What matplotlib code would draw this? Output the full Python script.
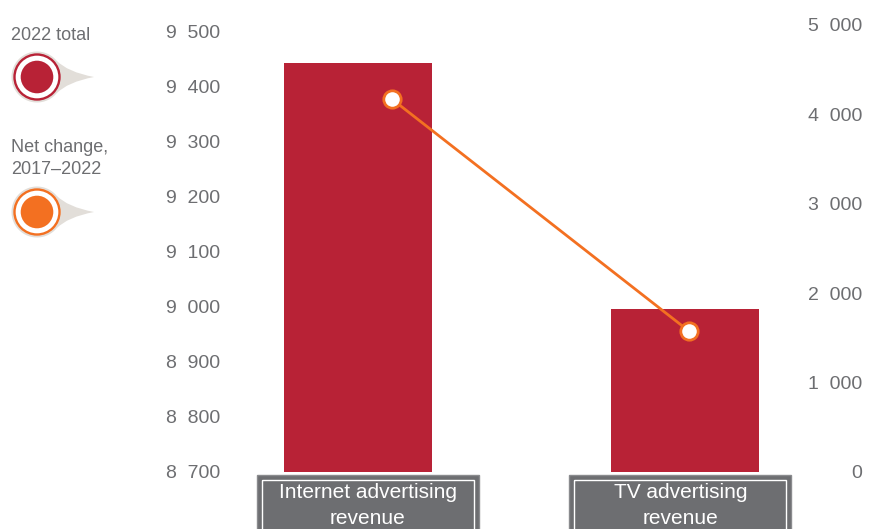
import numpy as np
import matplotlib
matplotlib.use("Agg")
import matplotlib.pyplot as plt
from matplotlib.patches import Circle, Rectangle, PathPatch
from matplotlib.path import Path
from matplotlib.ticker import FuncFormatter, FixedLocator

plt.rcParams["font.family"] = ["Liberation Sans", "DejaVu Sans"]

# Data
categories = ["Internet advertising\nrevenue", "TV advertising\nrevenue"]
total_2022 = [9442, 8996]          # left axis, bars
net_change = [4172, 1577]          # right axis, line
left_ticks = [8700, 8800, 8900, 9000, 9100, 9200, 9300, 9400, 9500]
right_ticks = [0, 1000, 2000, 3000, 4000, 5000]

# Styling
BAR_RED = "#b82236"
LINE_ORANGE = "#f37021"
TEXT_GREY = "#6d6e71"
PIN_GREY = "#e2ded9"
BOX_GREY = "#6d6e71"
LINE_SHIFT = np.array([0.104, 0.011])   # horizontal nudge of the line markers

W, H = 872, 529
fig = plt.figure(figsize=(W / 100, H / 100), dpi=100)

def fig_rect(x0, y_top, x1, y_bottom):
    return [x0 / W, 1 - y_bottom / H, (x1 - x0) / W, (y_bottom - y_top) / H]

ax = fig.add_axes(fig_rect(194, 25, 849, 472))
x = np.arange(len(categories))
ax.bar(x, total_2022, width=0.452, color=BAR_RED, zorder=2)
ax.set_xlim(-0.5, 1.5)
ax.set_ylim(8700, 9511)
ax.yaxis.set_major_locator(FixedLocator(left_ticks))
# thousands separated by a digit-wide gap
fmt = FuncFormatter(lambda v, p: f"{int(v):,}".replace(",", "  "))
ax.yaxis.set_major_formatter(fmt)
ax.tick_params(axis="y", length=0, pad=-19, labelsize=14, labelcolor=TEXT_GREY)
ax.set_xticks([])
for s in ax.spines.values():
    s.set_visible(False)

ax2 = ax.twinx()
ax2.set_ylim(0, 5000)
ax2.yaxis.set_major_locator(FixedLocator(right_ticks))
ax2.yaxis.set_major_formatter(fmt)
ax2.tick_params(axis="y", length=0, pad=9.5, labelsize=14, labelcolor=TEXT_GREY)
for lbl in ax2.get_yticklabels():
    lbl.set_horizontalalignment("right")
for s in ax2.spines.values():
    s.set_visible(False)
ax2.plot(x + LINE_SHIFT, net_change, color=LINE_ORANGE, lw=2, zorder=3,
         marker="o", markersize=12.5, markerfacecolor="white",
         markeredgecolor=LINE_ORANGE, markeredgewidth=2)

# Overlay in pixel coordinates (y pointing down) for legend and category boxes
ov = fig.add_axes([0, 0, 1, 1], zorder=5)
ov.set_xlim(0, W)
ov.set_ylim(H, 0)
ov.axis("off")
ov.patch.set_alpha(0)

def pin(cx, cy, color):
    R = 25.5
    a = np.deg2rad(np.linspace(40, 320, 80))
    arc = np.column_stack([cx + R * np.cos(a), cy - R * np.sin(a)])
    tip = (cx + 57, cy)
    verts = list(arc)
    codes = [Path.MOVETO] + [Path.LINETO] * (len(arc) - 1)
    verts += [(cx + R + 5, cy + 5), tip, (cx + R + 5, cy - 5), tuple(arc[0])]
    codes += [Path.CURVE3, Path.CURVE3, Path.CURVE3, Path.CURVE3]
    ov.add_patch(PathPatch(Path(verts, codes), facecolor=PIN_GREY, edgecolor="none"))
    ov.add_patch(Circle((cx, cy), 22.5, facecolor="white", edgecolor=color, lw=1.7))
    ov.add_patch(Circle((cx, cy), 16.3, facecolor=color, edgecolor="none"))

ov.text(11, 35, "2022 total", fontsize=13, color=TEXT_GREY, va="center", ha="left")
pin(37, 77, BAR_RED)
ov.text(11, 147, "Net change,", fontsize=13, color=TEXT_GREY, va="center", ha="left")
ov.text(11, 169, "2017\u20132022", fontsize=13, color=TEXT_GREY, va="center", ha="left")
pin(37, 212, LINE_ORANGE)

# Category label boxes under the bars
for i, cat in enumerate(categories):
    px, _ = ax.transData.transform((x[i], 9000))
    cx = px + (10 if i == 0 else -5)
    bw = 222
    ov.add_patch(Rectangle((cx - bw / 2, 475), bw, 70, facecolor=BOX_GREY,
                           edgecolor="#8a8b8e", lw=1))
    ov.add_patch(Rectangle((cx - bw / 2 + 5, 480), bw - 10, 70, facecolor="none",
                           edgecolor="white", lw=1))
    line1, line2 = cat.split("\n")
    ov.text(cx, 492, line1, fontsize=15, color="white", ha="center", va="center")
    ov.text(cx, 518, line2, fontsize=15, color="white", ha="center", va="center")

fig.savefig("out.png", dpi=100)
